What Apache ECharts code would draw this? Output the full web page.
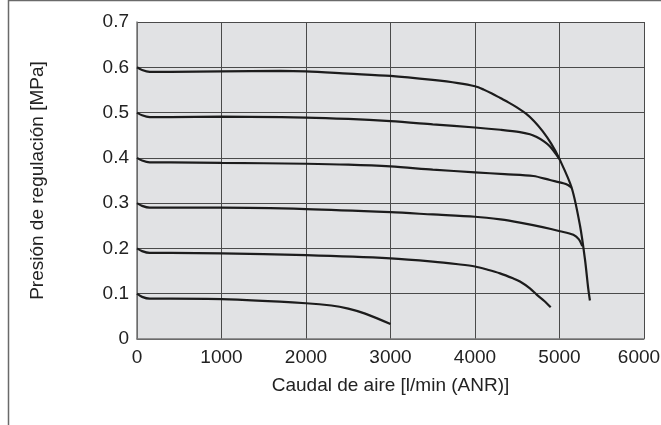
<!DOCTYPE html>
<html>
<head>
<meta charset="utf-8">
<script src="https://cdn.jsdelivr.net/npm/echarts@6/dist/echarts.min.js"></script>
<style>
html,body{margin:0;padding:0;background:#fff;}
#c{width:661px;height:425px;}
</style>
</head>
<body>
<div id="c"></div>
<script>
// Air flow [l/min (ANR)] and regulated pressure [MPa] for each set pressure curve
var curve06x = [0, 60, 150, 400, 1000, 1700, 2000, 2500, 3000, 3500, 3800, 4000, 4100, 4200, 4300, 4400, 4500, 4600, 4700, 4800, 4900, 4998, 5144, 5243, 5302, 5341, 5360];
var curve06y = [0.600, 0.594, 0.590, 0.590, 0.591, 0.592, 0.591, 0.586, 0.581, 0.572, 0.565, 0.558, 0.551, 0.542, 0.532, 0.522, 0.511, 0.498, 0.481, 0.459, 0.432, 0.398, 0.334, 0.250, 0.175, 0.110, 0.085];

var curve05x = [0, 60, 150, 400, 1000, 2000, 2500, 3000, 3500, 4000, 4300, 4532, 4650, 4730, 4820, 4888, 4998];
var curve05y = [0.500, 0.494, 0.490, 0.490, 0.491, 0.489, 0.486, 0.481, 0.474, 0.467, 0.462, 0.457, 0.452, 0.446, 0.436, 0.425, 0.398];

var curve04x = [0, 60, 150, 400, 1000, 2000, 2500, 3000, 3500, 4000, 4350, 4690, 4888, 5045, 5100, 5144];
var curve04y = [0.400, 0.394, 0.390, 0.390, 0.389, 0.387, 0.385, 0.381, 0.374, 0.368, 0.364, 0.360, 0.351, 0.344, 0.340, 0.334];

var curve03x = [0, 60, 150, 400, 1000, 2000, 3000, 3500, 4000, 4300, 4532, 4800, 5006, 5164, 5230, 5270];
var curve03y = [0.300, 0.294, 0.290, 0.290, 0.290, 0.287, 0.280, 0.275, 0.270, 0.264, 0.257, 0.247, 0.238, 0.230, 0.220, 0.205];

var curve02x = [0, 60, 150, 400, 1000, 2000, 3000, 3500, 3800, 4000, 4150, 4296, 4450, 4532, 4650, 4730, 4820, 4896];
var curve02y = [0.200, 0.194, 0.190, 0.190, 0.189, 0.185, 0.178, 0.171, 0.165, 0.160, 0.153, 0.145, 0.134, 0.127, 0.112, 0.098, 0.084, 0.070];

var curve01x = [0, 60, 150, 400, 1000, 2000, 2300, 2500, 2700, 3000];
var curve01y = [0.100, 0.093, 0.089, 0.089, 0.088, 0.079, 0.074, 0.067, 0.056, 0.033];

var xTicks = [0, 1000, 2000, 3000, 4000, 5000, 6000];
var yTicks = [0, 0.1, 0.2, 0.3, 0.4, 0.5, 0.6, 0.7];
var xTitle = 'Caudal de aire [l/min (ANR)]';
var yTitle = 'Presión de regulación [MPa]';

function pairs(xs, ys){ return xs.map(function(x,i){ return [x, ys[i]]; }); }
var curves = [
  pairs(curve06x, curve06y), pairs(curve05x, curve05y), pairs(curve04x, curve04y),
  pairs(curve03x, curve03y), pairs(curve02x, curve02y), pairs(curve01x, curve01y)
];

var chart = echarts.init(document.getElementById('c'), null, {renderer:'canvas'});
var font = '"Liberation Sans", Arial, Helvetica, sans-serif';
var lastX = xTicks[xTicks.length - 1];
chart.setOption({
  animation: false,
  backgroundColor: '#ffffff',
  graphic: [{
    type: 'polyline',
    shape: { points: [[8.5, 425], [8.5, 0.5], [661, 0.5]] },
    style: { stroke: '#6a6a6a', lineWidth: 1.5, fill: null },
    silent: true
  }],
  grid: { left: 137, top: 22, right: 17, bottom: 86, show: true, backgroundColor: '#e1e2e4', borderWidth: 0,
    containLabel: false, outerBoundsMode: 'none' },
  xAxis: {
    type: 'value', min: 0, max: 6000, interval: 1000,
    name: xTitle, nameLocation: 'middle', nameGap: 37,
    nameTextStyle: { fontFamily: font, fontSize: 19, color: '#222' },
    axisLine: { show: true, lineStyle: { color: '#777', width: 1.5 } },
    axisTick: { show: false },
    axisLabel: { fontFamily: font, fontSize: 19, color: '#222', margin: 9,
      formatter: function(v){
        if (xTicks.indexOf(v) < 0) return '';
        return v === lastX ? '{e|' + v + '}' : String(v);
      },
      rich: { e: { fontFamily: font, fontSize: 19, color: '#222', padding: [0, 10, 0, 0] } } },
    splitLine: { show: true, lineStyle: { color: '#4a4a4a', width: 1 } }
  },
  yAxis: {
    type: 'value', min: 0, max: 0.7, interval: 0.1,
    name: yTitle, nameLocation: 'middle', nameGap: 90, nameRotate: 90,
    nameTextStyle: { fontFamily: font, fontSize: 19, color: '#222' },
    axisLine: { show: true, lineStyle: { color: '#777', width: 1.5 } },
    axisTick: { show: false },
    axisLabel: { fontFamily: font, fontSize: 19, color: '#222', margin: 8,
      formatter: function(v){ var r = Math.round(v*10)/10; return r === 0 ? '0' : r.toFixed(1); } },
    splitLine: { show: true, lineStyle: { color: '#4a4a4a', width: 1 } }
  },
  series: curves.map(function(d){
    return {
      type: 'line', data: d, smooth: 0.3, showSymbol: false, symbol: 'none',
      lineStyle: { color: '#1c1c1c', width: 2.2 }, z: 3
    };
  })
});
</script>
</body>
</html>
